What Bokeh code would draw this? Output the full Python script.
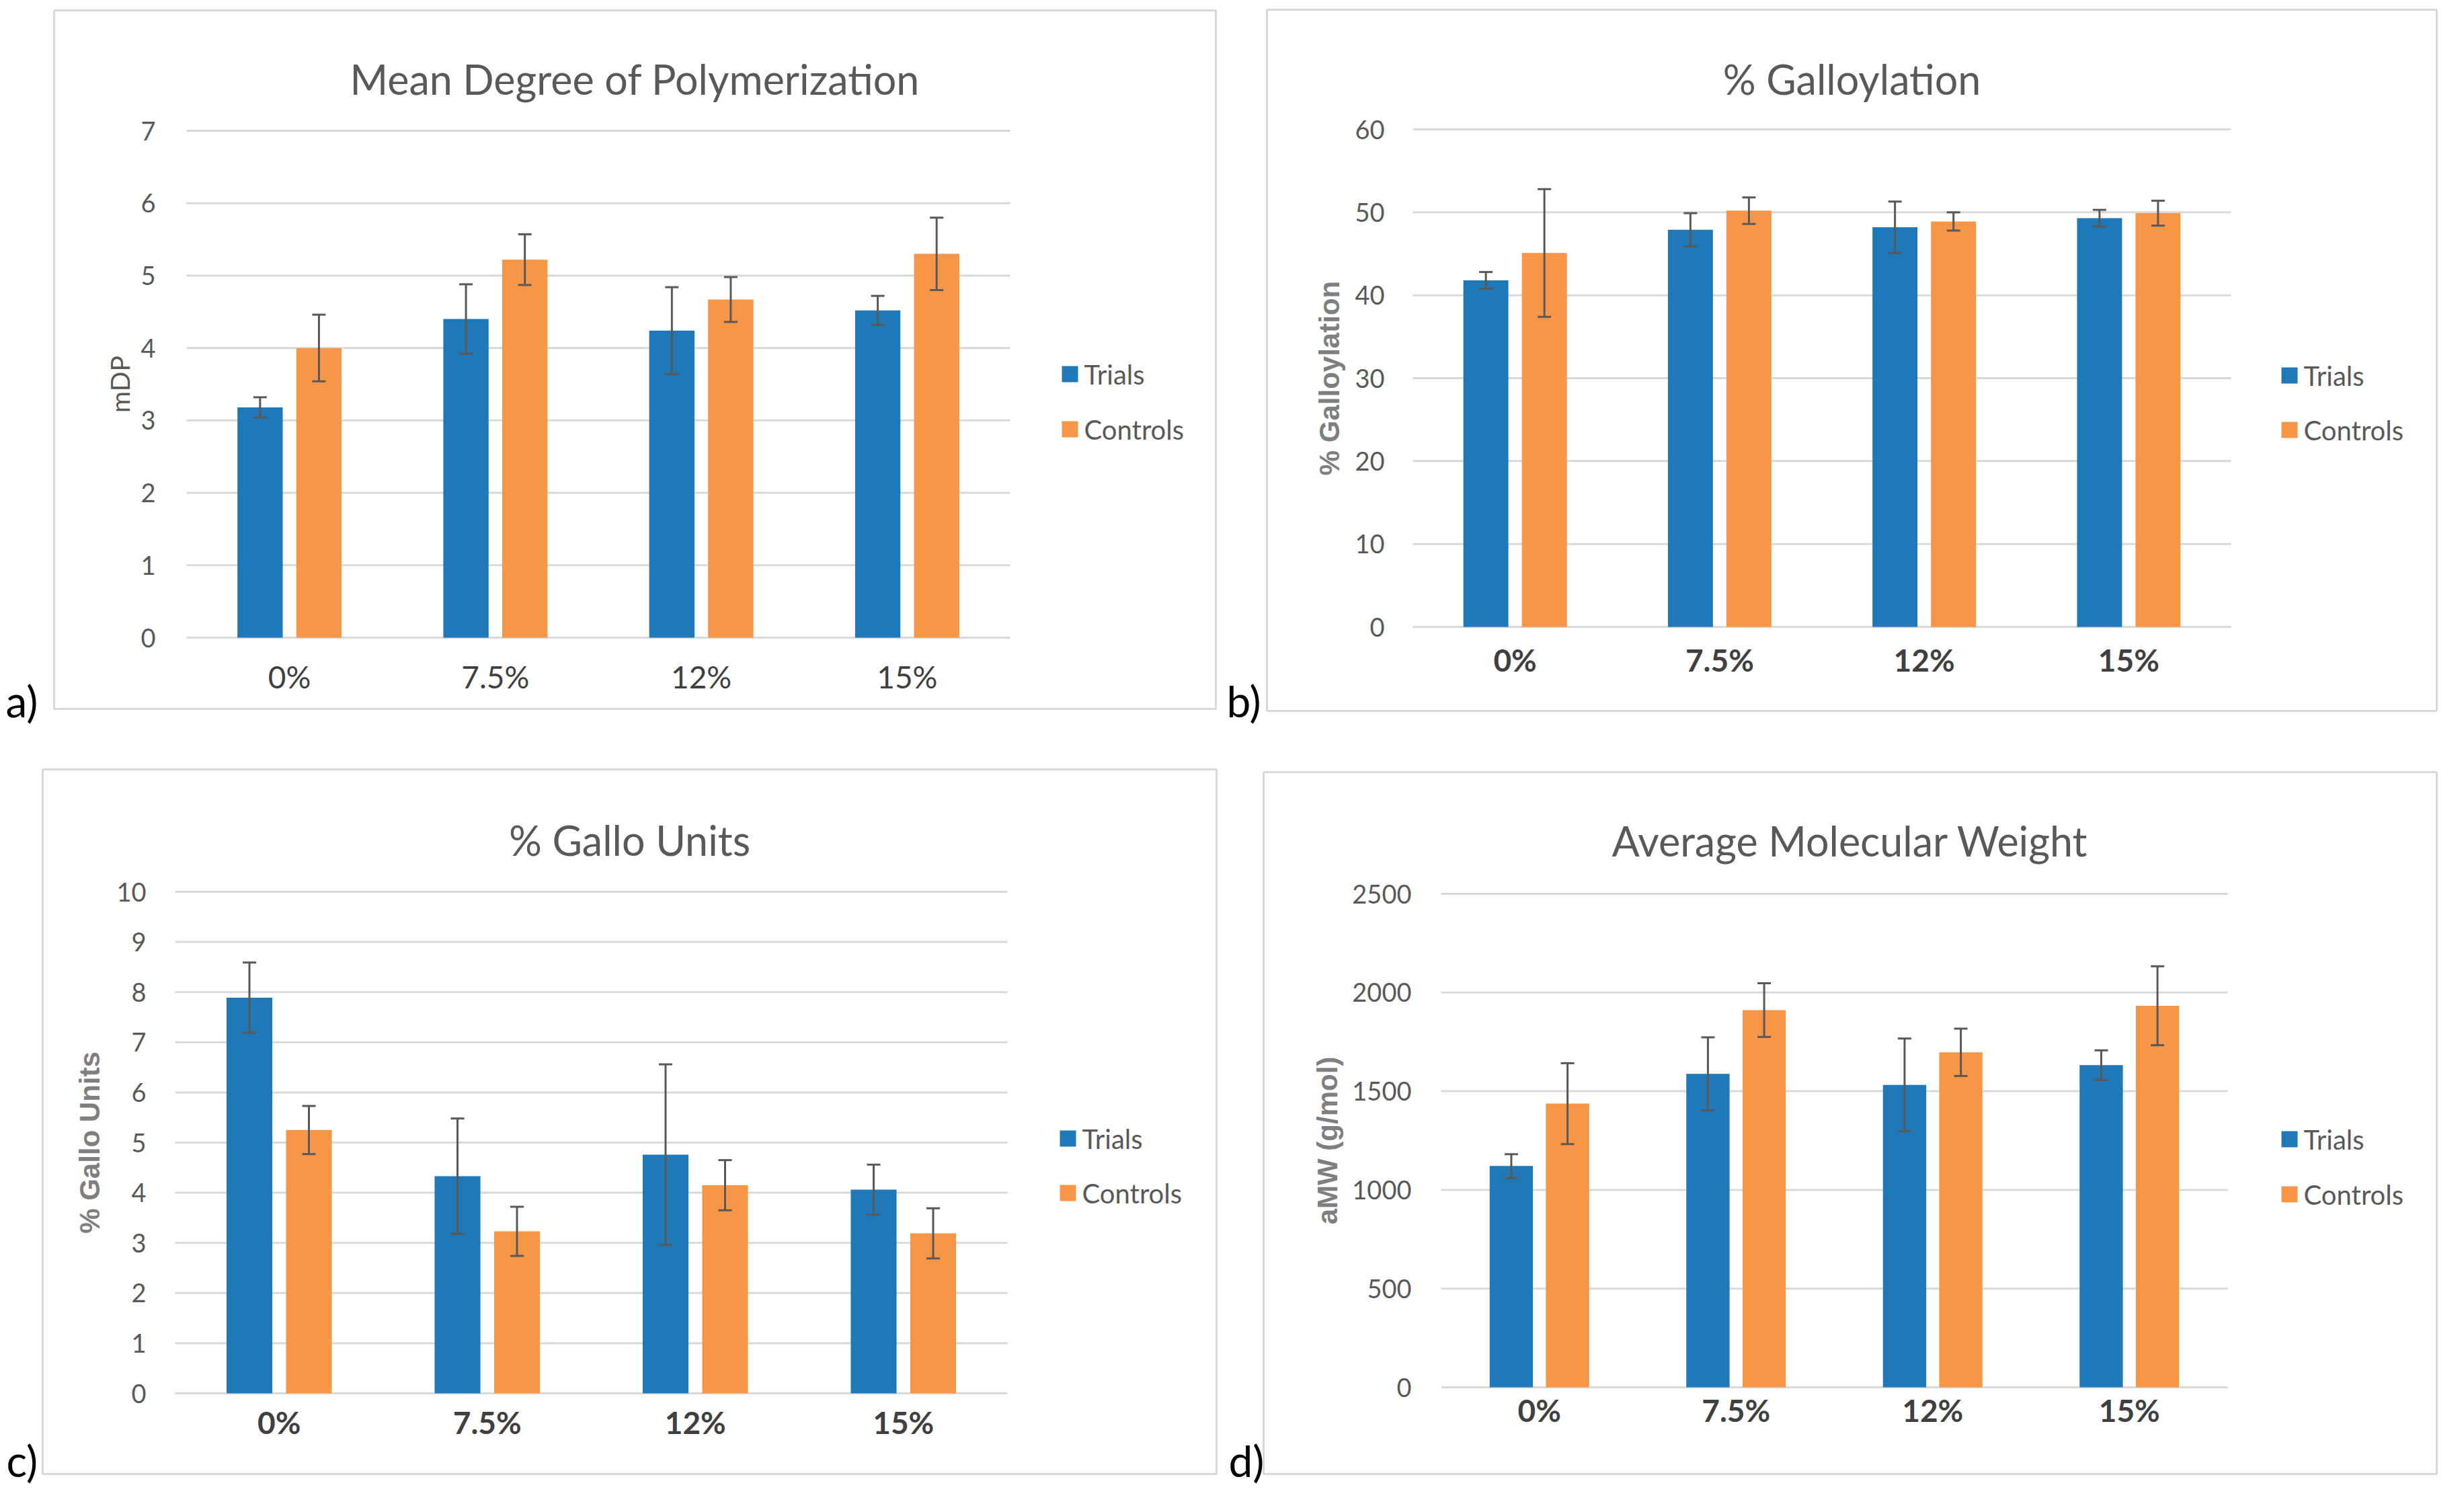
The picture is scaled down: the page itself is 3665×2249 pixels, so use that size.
import math
from bokeh.plotting import figure
from bokeh.models import ColumnDataSource, Range1d, FixedTicker, Whisker, TeeHead, Label
from bokeh.layouts import row, column
from bokeh.core.properties import value
from bokeh.embed import file_html
from bokeh.resources import INLINE

# ---------------- data ----------------
categories = ["0%", "7.5%", "12%", "15%"]

mdp_trials = [3.18, 4.40, 4.24, 4.52]
mdp_trials_err = [0.14, 0.48, 0.60, 0.20]
mdp_controls = [4.00, 5.22, 4.67, 5.30]
mdp_controls_err = [0.46, 0.35, 0.31, 0.50]
mdp_ticks = [0, 1, 2, 3, 4, 5, 6, 7]

gal_trials = [41.8, 47.9, 48.2, 49.3]
gal_trials_err = [1.0, 2.0, 3.1, 1.0]
gal_controls = [45.1, 50.2, 48.9, 49.9]
gal_controls_err = [7.7, 1.6, 1.1, 1.5]
gal_ticks = [0, 10, 20, 30, 40, 50, 60]

units_trials = [7.89, 4.33, 4.76, 4.06]
units_trials_err = [0.70, 1.15, 1.80, 0.50]
units_controls = [5.25, 3.23, 4.15, 3.19]
units_controls_err = [0.48, 0.49, 0.50, 0.50]
units_ticks = [0, 1, 2, 3, 4, 5, 6, 7, 8, 9, 10]

amw_trials = [1121, 1588, 1532, 1632]
amw_trials_err = [60, 185, 235, 75]
amw_controls = [1437, 1911, 1697, 1933]
amw_controls_err = [205, 136, 120, 200]
amw_ticks = [0, 500, 1000, 1500, 2000, 2500]

series_names = ["Trials", "Controls"]

# ---------------- style ----------------
BLUE = "#1f78b8"
ORANGE = "#f79646"
ERR = "#595959"
GRID = "#d9d9d9"
TXT = "#595959"
FONT = "Lato"
TAG_SIZE = 64


def panel(fig_box, box, grid, ymax, yticks, tv, te, cv, ce,
          title, title_base, ylabel, ylabel_x, ylabel_font, ylabel_style, ylabel_size,
          ylabel_color, legend_x, legend_y, tag, tag_pos, xstand, ystand, xbold):
    """All geometry is in page pixels; it is converted to data units here."""
    n = len(categories)
    ox, oy, fw_, fh_ = fig_box
    gx0, gx1, gtop, g0 = grid

    def X(px):
        return (px - gx0) / (gx1 - gx0) * n

    def Y(py):
        return (g0 - py) / (g0 - gtop) * ymax

    p = figure(width=fw_, height=fh_,
               x_range=Range1d(X(ox), X(ox + fw_)), y_range=Range1d(Y(oy + fh_), Y(oy)),
               output_backend="svg", toolbar_location=None, tools="", min_border=0)
    p.outline_line_color = None
    p.background_fill_color = "white"
    p.border_fill_color = "white"
    p.xgrid.grid_line_color = None
    p.ygrid.grid_line_color = None

    # panel frame (light grey box)
    bl, bt, br, bb = box
    p.quad(left=[X(bl)], right=[X(br)], top=[Y(bt)], bottom=[Y(bb)],
           fill_color=None, line_color=GRID, line_width=3)

    # horizontal gridlines across the category span
    gl = p.segment(x0=0, x1=n, y0=yticks, y1=yticks, line_color=GRID, line_width=3)
    gl.level = "underlay"

    off = 0.143
    xc = [i + 0.5 for i in range(n)]
    src = ColumnDataSource(dict(
        xt=[x - off for x in xc], xk=[x + off for x in xc], t=tv, c=cv,
        t_up=[v + e for v, e in zip(tv, te)], t_lo=[v - e for v, e in zip(tv, te)],
        c_up=[v + e for v, e in zip(cv, ce)], c_lo=[v - e for v, e in zip(cv, ce)],
    ))
    p.vbar(x="xt", top="t", width=0.22, source=src, fill_color=BLUE, line_color=None)
    p.vbar(x="xk", top="c", width=0.22, source=src, fill_color=ORANGE, line_color=None)
    for base, up, lo in [("xt", "t_up", "t_lo"), ("xk", "c_up", "c_lo")]:
        w = Whisker(source=src, base=base, upper=up, lower=lo,
                    line_color=ERR, line_width=3,
                    upper_head=TeeHead(size=20, line_color=ERR, line_width=3),
                    lower_head=TeeHead(size=20, line_color=ERR, line_width=3))
        w.level = "annotation"
        p.add_layout(w)

    # axes drawn inside the frame at x=0 / y=0
    p.xaxis.fixed_location = 0
    p.yaxis.fixed_location = 0
    p.xaxis.ticker = FixedTicker(ticks=xc)
    p.xaxis.major_label_overrides = {x: c for x, c in zip(xc, categories)}
    p.yaxis.ticker = FixedTicker(ticks=yticks)
    for ax in (p.xaxis[0], p.yaxis[0]):
        ax.axis_line_color = None
        ax.major_tick_line_color = None
        ax.minor_tick_line_color = None
        ax.major_label_text_font = FONT
    p.xaxis.major_label_text_font_size = "46px"
    p.xaxis.major_label_text_color = "#404040"
    p.xaxis.major_label_text_font_style = "bold" if xbold else "normal"
    p.xaxis.major_label_standoff = xstand
    p.yaxis.major_label_text_font_size = "38px"
    p.yaxis.major_label_text_color = TXT
    p.yaxis.major_label_standoff = ystand

    # y-axis title
    p.add_layout(Label(x=X(ylabel_x), y=ymax / 2, text=ylabel, angle=math.pi / 2,
                       text_align="center", text_baseline="middle",
                       text_font=ylabel_font, text_font_style=ylabel_style,
                       text_font_size=ylabel_size, text_color=ylabel_color))

    # chart title, centred on the panel box
    p.add_layout(Label(x=X((bl + br) / 2), y=Y(title_base), text=title,
                       text_align="center", text_baseline="alphabetic",
                       text_font=FONT, text_font_size="61px", text_color=TXT))

    # legend
    lsrc = ColumnDataSource(dict(x=[X(legend_x)] * 2, y=[Y(v) for v in legend_y],
                                 tx=[X(legend_x + 21)] * 2,
                                 name=series_names, color=[BLUE, ORANGE]))
    p.scatter(x="x", y="y", marker="square", size=24, fill_color="color",
              line_color=None, source=lsrc)
    p.text(x="tx", y="y", text="name", source=lsrc, text_baseline="middle",
           text_align="left", text_font=value(FONT), text_font_size="40px",
           text_color=TXT)

    # panel tag a) b) ... (placed by its middle; tag_pos gives the baseline)
    p.add_layout(Label(x=X(tag_pos[0]), y=Y(tag_pos[1] - 0.387 * TAG_SIZE), text=tag,
                       text_align="left", text_baseline="middle",
                       text_font=FONT, text_font_size=f"{TAG_SIZE}px", text_color="#000000"))
    return p


SPLIT_X, SPLIT_Y = 1820, 1125
LW, RW = SPLIT_X - 8, 1830
TH, BH = SPLIT_Y - 8, 1115

pa = panel((8, 8, LW, TH), (88, 23, 1816, 1062), (285, 1510, 202, 956),
           7, mdp_ticks, mdp_trials, mdp_trials_err, mdp_controls, mdp_controls_err,
           "Mean Degree of Polymerization", 125, "mDP", 185, FONT, "normal", "39px", TXT,
           1599, (564, 646), "a)", (16, 1075), 24, 40, False)
pb = panel((SPLIT_X, 8, RW, TH), (1892, 22, 3632, 1065), (2109, 3326, 200, 940),
           60, gal_ticks, gal_trials, gal_trials_err, gal_controls, gal_controls_err,
           "% Galloylation", 125, "% Galloylation", 1985, "Liberation Sans", "bold", "42px",
           "#7f7f7f", 3413, (566, 647), "b)", (1832, 1075), 15, 36, True)
pc = panel((8, SPLIT_Y, LW, BH), (71, 1152, 1817, 2200), (268, 1506, 1334, 2080),
           10, units_ticks, units_trials, units_trials_err, units_controls, units_controls_err,
           "% Gallo Units", 1257, "% Gallo Units", 141, "Liberation Sans", "bold", "42px",
           "#7f7f7f", 1596, (1701, 1782), "c)", (17, 2205), 9, 37, True)
pd_ = panel((SPLIT_X, SPLIT_Y, RW, BH), (1887, 1156, 3632, 2200), (2151, 3321, 1337, 2071),
            2500, amw_ticks, amw_trials, amw_trials_err, amw_controls, amw_controls_err,
            "Average Molecular Weight", 1258, "aMW (g/mol)", 1982, "Liberation Sans", "bold",
            "42px", "#7f7f7f", 3413, (1702, 1784), "d)", (1835, 2205), 0, 38, True)

layout = column(row(pa, pb), row(pc, pd_))

open("out.html", "w").write(file_html(layout, INLINE))
